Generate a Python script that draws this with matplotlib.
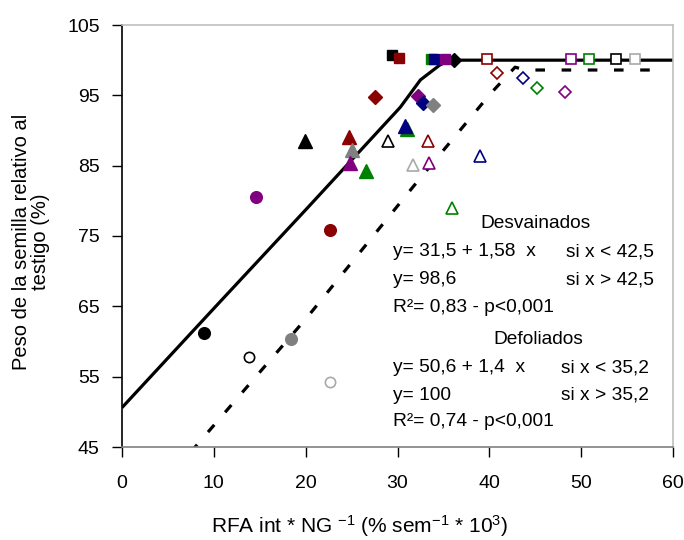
import matplotlib
matplotlib.use("Agg")
import matplotlib.pyplot as plt

plt.rcParams['font.family'] = ['Liberation Sans', 'DejaVu Sans']
plt.rcParams['mathtext.fontset'] = 'custom'
plt.rcParams['mathtext.rm'] = 'Liberation Sans'
plt.rcParams['mathtext.it'] = 'Liberation Sans:italic'

# ---------------- data ----------------
# filled markers
fc_x = [8.9, 14.6, 22.7, 18.4]
fc_y = [61.2, 80.5, 75.8, 60.3]
fc_col = ['black', 'purple', 'darkred', 'gray']

ft_x = [19.9, 24.7, 25.0, 24.8, 26.6, 31.0, 30.8]
ft_y = [88.5, 89.1, 87.2, 85.4, 84.2, 90.2, 90.6]
ft_col = ['black', 'darkred', 'gray', 'purple', 'green', 'green', 'navy']

fd_x = [27.6, 32.2, 32.8, 33.9, 36.2]
fd_y = [94.7, 94.9, 93.9, 93.6, 100.0]
fd_col = ['darkred', 'purple', 'navy', 'gray', 'black']

fs_x = [29.4, 30.2, 33.6, 34.0, 35.2]
fs_y = [100.7, 100.3, 100.2, 100.2, 100.2]
fs_col = ['black', 'darkred', 'green', 'navy', 'purple']

# open markers
oc_x = [13.8, 22.7]
oc_y = [57.8, 54.3]
oc_col = ['black', 'darkgray']

ot_x = [29.0, 33.3, 31.7, 33.4, 39.0, 35.9]
ot_y = [88.5, 88.5, 85.1, 85.4, 86.4, 79.0]
ot_col = ['black', 'darkred', 'darkgray', 'purple', 'navy', 'green']

od_x = [40.8, 43.7, 45.2, 48.2]
od_y = [98.2, 97.5, 96.0, 95.5]
od_col = ['darkred', 'navy', 'green', 'purple']

os_x = [39.8, 48.9, 50.8, 53.8, 55.9]
os_y = [100.2, 100.2, 100.2, 100.2, 100.2]
os_col = ['darkred', 'purple', 'green', 'black', 'darkgray']

# fitted lines (vertices)
solid_x = [0, 10, 20.2, 30.3, 32.5, 34.6, 35.6, 60]
solid_y = [50.6, 64.7, 79.0, 93.3, 97.2, 99.3, 100.0, 100.0]
dash_x = [7.5, 20.2, 31.7, 40.1, 42.8, 44.0, 59.0]
dash_y = [44.3, 63.5, 82.0, 95.2, 99.0, 98.6, 98.6]

xticks = [0, 10, 20, 30, 40, 50, 60]
yticks = [45, 55, 65, 75, 85, 95, 105]

# ---------------- figure ----------------
W, H = 684, 540
fig = plt.figure(figsize=(W / 100, H / 100), dpi=100)
ax = fig.add_axes([122 / W, 1 - 447 / H, (673 - 122) / W, (447 - 25) / H])

ax.plot(solid_x, solid_y, color='black', lw=2.3, solid_capstyle='butt', zorder=2)
ax.plot(dash_x, dash_y, color='black', lw=2.3, linestyle=(0, (3.0, 5.2)),
        dash_capstyle='butt', zorder=2)

def filled(xs, ys, cols, m, ms):
    for x, y, c in zip(xs, ys, cols):
        ax.plot([x], [y], marker=m, ms=ms, color=c, mec=c, linestyle='none', zorder=3)

def opened(xs, ys, cols, m, ms):
    for x, y, c in zip(xs, ys, cols):
        ax.plot([x], [y], marker=m, ms=ms, mfc='white', mec=c, mew=1.2,
                linestyle='none', zorder=3)

filled(fc_x, fc_y, fc_col, 'o', 8.4)
filled(ft_x, ft_y, ft_col, '^', 9.5)
filled(fd_x, fd_y, fd_col, 'D', 6.8)
filled(fs_x, fs_y, fs_col, 's', 7.9)
opened(oc_x, oc_y, oc_col, 'o', 7.4)
opened(ot_x, ot_y, ot_col, '^', 8.8)
opened(od_x, od_y, od_col, 'D', 6.3)
opened(os_x, os_y, os_col, 's', 7.6)

ax.set_xlim(0, 60)
ax.set_ylim(45, 105)
ax.set_xticks(xticks)
ax.set_yticks(yticks)
ax.tick_params(axis='both', direction='out', length=7, width=1, labelsize=14, color='black')
ax.tick_params(axis='x', pad=13)
ax.tick_params(axis='y', pad=9)

ax.spines['left'].set_color('black')
ax.spines['bottom'].set_color('#808080')
ax.spines['top'].set_color('#c0c0c0')
ax.spines['right'].set_color('#c0c0c0')
for s in ax.spines.values():
    s.set_linewidth(1.2)

fig.text(31 / W, 1 - 242 / H, 'Peso de la semilla relativo al\ntestigo (%)',
         rotation=90, ha='center', va='center', multialignment='center',
         fontsize=14.5, linespacing=0.95)
fig.text(360 / W, 1 - 526 / H,
         r'RFA int * NG $^{\mathrm{-1}}$ (% sem$^{\mathrm{-1}}$ * 10$^{\mathrm{3}}$)',
         ha='center', va='center', fontsize=15)

def ft(x, y, s, ha='left'):
    fig.text(x / W, 1 - y / H, s, ha=ha, va='center', fontsize=13.8)

ft(536, 224, 'Desvainados', ha='center')
ft(393, 252, 'y= 31,5 + 1,58  x')
ft(566, 252, 'si x < 42,5')
ft(393, 280, 'y= 98,6')
ft(566, 280, 'si x > 42,5')
ft(393, 307, 'R\u00b2= 0,83 - p<0,001')
ft(538, 340, 'Defoliados', ha='center')
ft(393, 368, 'y= 50,6 + 1,4  x')
ft(561, 368, 'si x < 35,2')
ft(393, 395, 'y= 100')
ft(561, 395, 'si x > 35,2')
ft(393, 422, 'R\u00b2= 0,74 - p<0,001')

fig.savefig('out.png', dpi=100)
